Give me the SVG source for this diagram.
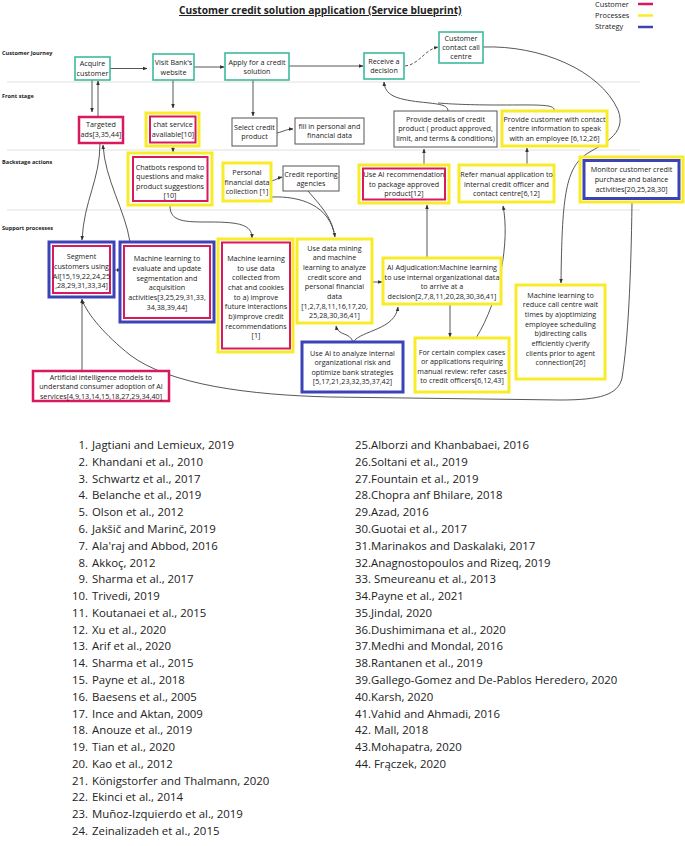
<svg xmlns="http://www.w3.org/2000/svg" width="685" height="846" viewBox="0 0 685 846">
<defs>
<style>
text{font-family:"Open Sans","Liberation Sans",sans-serif;fill:#222}
.t{font-size:7.2px;text-anchor:middle}
.lane{font-size:5.6px;font-weight:bold}
.leg{font-size:7.4px}
.ref{font-size:11.4px}
.refn{font-size:11.4px;text-anchor:end}
.title{font-size:10.2px;font-weight:bold;text-decoration:underline}
.teal{fill:#fff;stroke:#3dbb9d;stroke-width:1.6}
.pk{fill:#fff;stroke:#d8185f;stroke-width:2.5}
.pki{fill:none;stroke:#d8185f;stroke-width:2}
.yl{fill:#fff;stroke:#f8ec2a;stroke-width:3}
.bl{fill:#fff;stroke:#3c43b6;stroke-width:3}
.gr{fill:#fff;stroke:#555;stroke-width:1}
.c{fill:none;stroke:#444;stroke-width:0.9}
.dash{stroke-dasharray:3 2}
.sep{stroke:#e0e0e0;stroke-width:1}
</style>
<marker id="ah" viewBox="0 0 10 10" refX="9" refY="5" markerWidth="5" markerHeight="5" orient="auto"><path d="M0,1 L10,5 L0,9 z" fill="#333"/></marker>
</defs>
<rect width="685" height="846" fill="#fff"/>

<text class="title" x="179" y="14">Customer credit solution application (Service blueprint)</text>

<g id="legend">
<text class="leg" x="595" y="6.5">Customer</text>
<line x1="638" y1="4" x2="653" y2="4" stroke="#d8185f" stroke-width="2.5"/>
<text class="leg" x="595" y="17.5">Processes</text>
<line x1="638" y1="15.5" x2="653" y2="15.5" stroke="#f8ec2a" stroke-width="2.5"/>
<text class="leg" x="595" y="29">Strategy</text>
<line x1="638" y1="27" x2="653" y2="27" stroke="#3c43b6" stroke-width="2.5"/>
</g>

<g id="lanes">
<line class="sep" x1="7" y1="82" x2="640" y2="82"/>
<line class="sep" x1="7" y1="150" x2="640" y2="150"/>
<line class="sep" x1="7" y1="210" x2="640" y2="210"/>
<text class="lane" x="2" y="55">Customer Journey</text>
<text class="lane" x="2" y="98">Front stage</text>
<text class="lane" x="2" y="164">Backstage actions</text>
<text class="lane" x="2" y="230">Support processes</text>
</g>

<g id="connectors">
<path class="c" d="M110,68.5 L147,68.5" marker-end="url(#ah)"/>
<path class="c" d="M194,67 L224,67" marker-end="url(#ah)"/>
<path class="c" d="M289,66 L363,66" marker-end="url(#ah)"/>
<path class="c dash" d="M405,66 C420,64 424,50 438,47" marker-end="url(#ah)"/>
<path class="c" d="M92,80 L92,112" marker-end="url(#ah)"/>
<path class="c" d="M98,116 L98,81" marker-end="url(#ah)"/>
<path class="c" d="M173,80 L173,108" marker-end="url(#ah)"/>
<path class="c" d="M253,80 L253,116" marker-end="url(#ah)"/>
<path class="c" d="M277,133 C285,131 287,129 293,129" marker-end="url(#ah)"/>
<path class="c" d="M448,111 C448,105 440,104 420,102 C395,99 385,95 384,82" marker-end="url(#ah)"/>
<path class="c" d="M554,111 C556,104 540,105 500,105 C470,105 450,104 438,103"/>
<path class="c" d="M483,47 C540,45 600,70 618,110 C628,135 600,145 585,155 C565,170 562,200 561,283" marker-end="url(#ah)"/>
<path class="c" d="M527,165 L527,148" marker-end="url(#ah)"/>
<path class="c" d="M424,165 L424,149" marker-end="url(#ah)"/>
<path class="c" d="M173,146 L173,152" marker-end="url(#ah)"/>
<path class="c" d="M100,143 C100,180 84,200 82,240" marker-end="url(#ah)"/>
<path class="c" d="M130,242 C125,210 105,180 103,145" marker-end="url(#ah)"/>
<path class="c" d="M170,206 C170,222 185,222 210,222 C240,222 252,225 252,238" marker-end="url(#ah)"/>
<path class="c" d="M271,181 C276,180 278,178 282,177" marker-end="url(#ah)"/>
<path class="c" d="M272,197 C300,196 330,205 335,237" marker-end="url(#ah)"/>
<path class="c" d="M308,191 C320,205 330,215 334,232"/>
<path class="c" d="M372,282 L382,282" marker-end="url(#ah)"/>
<path class="c" d="M427,258 L427,205" marker-end="url(#ah)"/>
<path class="c" d="M450,304 L450,337" marker-end="url(#ah)"/>
<path class="c" d="M476,338 C500,300 510,240 503,206" marker-end="url(#ah)"/>
<path class="c" d="M353,342 C350,332 338,336 336,326" marker-end="url(#ah)"/>
<path class="c" d="M353,342 C362,330 395,330 398,307" marker-end="url(#ah)"/>
<path class="c" d="M114,270 L121,270" marker-end="url(#ah)"/>
<path class="c" d="M82,371 L82,299" marker-end="url(#ah)"/>
<path class="c" d="M632,202 C631,280 628,340 622,378 C618,395 600,400 560,400 L330,397 C250,395 170,385 130,355 C105,335 88,315 82,300" marker-end="url(#ah)"/>
</g>

<g id="acquire">
<rect class="teal" x="75" y="57" width="35" height="23"/>
<text class="t" x="92.5" y="65.5">Acquire</text>
<text class="t" x="92.5" y="75.5">customer</text>
</g>
<g id="visit">
<rect class="teal" x="153" y="54" width="41" height="26"/>
<text class="t" x="173.5" y="64.5">Visit Bank's</text>
<text class="t" x="173.5" y="74.5">website</text>
</g>
<g id="apply">
<rect class="teal" x="225" y="53" width="64" height="27"/>
<text class="t" x="257" y="64.5">Apply for a credit</text>
<text class="t" x="257" y="73.5">solution</text>
</g>
<g id="receive">
<rect class="teal" x="364" y="53" width="40" height="26"/>
<text class="t" x="384" y="63.5">Receive a</text>
<text class="t" x="384" y="72.5">decision</text>
</g>
<g id="contact">
<rect class="teal" x="439" y="32" width="44" height="31"/>
<text class="t" x="461" y="40.5">Customer</text>
<text class="t" x="461" y="49.5">contact call</text>
<text class="t" x="461" y="59">centre</text>
</g>

<g id="targeted">
<rect class="pk" x="79" y="117" width="44" height="26"/>
<text class="t" x="101" y="126.5">Targeted</text>
<text class="t" x="101" y="136.5">ads[3,35,44]</text>
</g>
<g id="chat">
<rect class="yl" x="146" y="113" width="53" height="33"/>
<rect class="pki" x="150" y="116.5" width="45.5" height="26"/>
<text class="t" x="173" y="126.5">chat service</text>
<text class="t" x="173" y="136.5">available[10]</text>
</g>
<g id="select">
<rect class="gr" x="232" y="118" width="45" height="28"/>
<text class="t" x="254.5" y="130">Select credit</text>
<text class="t" x="254.5" y="139">product</text>
</g>
<g id="fill">
<rect class="gr" x="295" y="118" width="69" height="26"/>
<text class="t" x="329.5" y="129">fill in personal and</text>
<text class="t" x="329.5" y="138">financial data</text>
</g>
<g id="details">
<rect class="gr" x="394" y="111" width="103" height="36"/>
<text class="t" x="445.5" y="121.5">Provide details of credit</text>
<text class="t" x="445.5" y="130.5">product ( product approved,</text>
<text class="t" x="445.5" y="140.5">limit, and terms &amp; conditions)</text>
</g>
<g id="contactinfo">
<rect class="yl" x="502" y="111" width="105" height="35"/>
<text class="t" x="554.5" y="121.5">Provide customer with contact</text>
<text class="t" x="554.5" y="130.5">centre information to speak</text>
<text class="t" x="554.5" y="140.5">with an employee [6,12,26]</text>
</g>

<g id="chatbots">
<rect class="yl" x="128" y="153" width="84" height="52"/>
<rect class="pki" x="133" y="157" width="74.5" height="44"/>
<text class="t" x="170" y="169.5">Chatbots respond to</text>
<text class="t" x="170" y="178.5">questions and make</text>
<text class="t" x="170" y="188.5">product suggestions</text>
<text class="t" x="170" y="198">[10]</text>
</g>
<g id="personal">
<rect class="yl" x="223" y="163" width="48" height="38"/>
<text class="t" x="247" y="174.5">Personal</text>
<text class="t" x="247" y="184.5">financial data</text>
<text class="t" x="247" y="193.5">collection [1]</text>
</g>
<g id="creditrep">
<rect class="gr" x="283" y="166" width="56" height="25"/>
<text class="t" x="311" y="176.5">Credit reporting</text>
<text class="t" x="311" y="185.5">agencies</text>
</g>
<g id="useairec">
<rect class="yl" x="359" y="165" width="90" height="38"/>
<rect class="pki" x="363" y="168.5" width="82" height="31"/>
<text class="t" x="404" y="176.5">Use AI recommendation</text>
<text class="t" x="404" y="186.5">to package approved</text>
<text class="t" x="404" y="195.5">product[12]</text>
</g>
<g id="refer">
<rect class="yl" x="459" y="165" width="95" height="37"/>
<text class="t" x="506.5" y="176.5">Refer manual application to</text>
<text class="t" x="506.5" y="186.5">internal credit officer and</text>
<text class="t" x="506.5" y="195.5">contact centre[6,12]</text>
</g>
<g id="monitor">
<rect class="yl" x="580" y="157" width="103" height="45"/>
<rect class="bl" x="584" y="160.5" width="95" height="38" stroke-width="2.5"/>
<text class="t" x="631.5" y="171.5">Monitor customer credit</text>
<text class="t" x="631.5" y="181.5">purchase and balance</text>
<text class="t" x="631.5" y="191.5">activities[20,25,28,30]</text>
</g>

<g id="segment">
<rect class="bl" x="49" y="242" width="65" height="55"/>
<rect class="pki" x="53" y="246" width="57" height="47"/>
<text class="t" x="81.5" y="258.5">Segment</text>
<text class="t" x="81.5" y="268.5">customers using</text>
<text class="t" x="81.5" y="278.5">AI[15,19,22,24,25</text>
<text class="t" x="81.5" y="287.5">,28,29,31,33,34]</text>
</g>
<g id="mleval">
<rect class="bl" x="120" y="242" width="94" height="80"/>
<rect class="pki" x="124" y="246" width="86" height="72"/>
<text class="t" x="167" y="260.5">Machine learning to</text>
<text class="t" x="167" y="270.5">evaluate and update</text>
<text class="t" x="167" y="280.5">segmentation and</text>
<text class="t" x="167" y="289.5">acquisition</text>
<text class="t" x="167" y="299.5">activities[3,25,29,31,33,</text>
<text class="t" x="167" y="309.5">34,38,39,44]</text>
</g>
<g id="mlchat">
<rect class="yl" x="218" y="239" width="75" height="113"/>
<rect class="pki" x="222" y="242.5" width="68" height="106"/>
<text class="t" x="256" y="260.8">Machine learning</text>
<text class="t" x="256" y="270.5">to use data</text>
<text class="t" x="256" y="280.2">collected from</text>
<text class="t" x="256" y="289.9">chat and cookies</text>
<text class="t" x="256" y="299.6">to a) improve</text>
<text class="t" x="256" y="309.3">future interactions</text>
<text class="t" x="256" y="319">b)improve credit</text>
<text class="t" x="256" y="328.7">recommendations</text>
<text class="t" x="256" y="338.4">[1]</text>
</g>
<g id="datamining">
<rect class="yl" x="297" y="239" width="75" height="84"/>
<text class="t" x="334.5" y="250.5">Use data mining</text>
<text class="t" x="334.5" y="260.2">and machine</text>
<text class="t" x="334.5" y="269.9">learning to analyze</text>
<text class="t" x="334.5" y="279.6">credit score and</text>
<text class="t" x="334.5" y="289.3">personal financial</text>
<text class="t" x="334.5" y="299">data</text>
<text class="t" x="334.5" y="308.7">[1,2,7,8,11,16,17,20,</text>
<text class="t" x="334.5" y="318.4">25,28,30,36,41]</text>
</g>
<g id="aiadj">
<rect class="yl" x="383" y="258" width="118" height="46"/>
<text class="t" x="442" y="269.5">AI Adjudication:Machine learning</text>
<text class="t" x="442" y="279.5">to use internal organizational data</text>
<text class="t" x="442" y="288.5">to arrive at a</text>
<text class="t" x="442" y="298.5">decision[2,7,8,11,20,28,30,36,41]</text>
</g>
<g id="complex">
<rect class="yl" x="415" y="338" width="94" height="54"/>
<text class="t" x="462" y="354.5">For certain complex cases</text>
<text class="t" x="462" y="364">or applications requiring</text>
<text class="t" x="462" y="373.5">manual review: refer cases</text>
<text class="t" x="462" y="383">to credit officers[6,12,43]</text>
</g>
<g id="useaianalyze">
<rect class="bl" x="302" y="342" width="101" height="50" stroke-width="2.5"/>
<text class="t" x="352.5" y="355.5">Use AI to analyze internal</text>
<text class="t" x="352.5" y="365">organizational risk and</text>
<text class="t" x="352.5" y="374.5">optimize bank strategies</text>
<text class="t" x="352.5" y="384">[5,17,21,23,32,35,37,42]</text>
</g>
<g id="mlcall">
<rect class="yl" x="516" y="285" width="89" height="94"/>
<text class="t" x="560.5" y="297.5">Machine learning to</text>
<text class="t" x="560.5" y="307.2">reduce call centre wait</text>
<text class="t" x="560.5" y="316.9">times by a)optimizing</text>
<text class="t" x="560.5" y="326.6">employee scheduling</text>
<text class="t" x="560.5" y="336.3">b)directing calls</text>
<text class="t" x="560.5" y="346">efficiently c)verify</text>
<text class="t" x="560.5" y="355.7">clients prior to agent</text>
<text class="t" x="560.5" y="365.4">connection[26]</text>
</g>
<g id="aimodels">
<rect class="pk" x="33" y="371" width="136" height="30"/>
<text class="t" x="101" y="379.5">Artificial intelligence models to</text>
<text class="t" x="101" y="389">understand consumer adoption of AI</text>
<text class="t" x="101" y="398.5">services[4,9,13,14,15,18,27,29,34,40]</text>
</g>

<g id="references">
<text class="refn" x="88" y="449">1.</text><text class="ref" x="92" y="449">Jagtiani and Lemieux, 2019</text>
<text class="refn" x="88" y="465.8">2.</text><text class="ref" x="92" y="465.8">Khandani et al., 2010</text>
<text class="refn" x="88" y="482.6">3.</text><text class="ref" x="92" y="482.6">Schwartz et al., 2017</text>
<text class="refn" x="88" y="499.3">4.</text><text class="ref" x="92" y="499.3">Belanche et al., 2019</text>
<text class="refn" x="88" y="516.1">5.</text><text class="ref" x="92" y="516.1">Olson et al., 2012</text>
<text class="refn" x="88" y="532.9">6.</text><text class="ref" x="92" y="532.9">Jakšič and Marinč, 2019</text>
<text class="refn" x="88" y="549.7">7.</text><text class="ref" x="92" y="549.7">Ala'raj and Abbod, 2016</text>
<text class="refn" x="88" y="566.5">8.</text><text class="ref" x="92" y="566.5">Akkoç, 2012</text>
<text class="refn" x="88" y="583.2">9.</text><text class="ref" x="92" y="583.2">Sharma et al., 2017</text>
<text class="refn" x="88" y="600">10.</text><text class="ref" x="92" y="600">Trivedi, 2019</text>
<text class="refn" x="88" y="616.8">11.</text><text class="ref" x="92" y="616.8">Koutanaei et al., 2015</text>
<text class="refn" x="88" y="633.6">12.</text><text class="ref" x="92" y="633.6">Xu et al., 2020</text>
<text class="refn" x="88" y="650.4">13.</text><text class="ref" x="92" y="650.4">Arif et al., 2020</text>
<text class="refn" x="88" y="667.1">14.</text><text class="ref" x="92" y="667.1">Sharma et al., 2015</text>
<text class="refn" x="88" y="683.9">15.</text><text class="ref" x="92" y="683.9">Payne et al., 2018</text>
<text class="refn" x="88" y="700.7">16.</text><text class="ref" x="92" y="700.7">Baesens et al., 2005</text>
<text class="refn" x="88" y="717.5">17.</text><text class="ref" x="92" y="717.5">Ince and Aktan, 2009</text>
<text class="refn" x="88" y="734.3">18.</text><text class="ref" x="92" y="734.3">Anouze et al., 2019</text>
<text class="refn" x="88" y="751">19.</text><text class="ref" x="92" y="751">Tian et al., 2020</text>
<text class="refn" x="88" y="767.8">20.</text><text class="ref" x="92" y="767.8">Kao et al., 2012</text>
<text class="refn" x="88" y="784.6">21.</text><text class="ref" x="92" y="784.6">Königstorfer and Thalmann, 2020</text>
<text class="refn" x="88" y="801.4">22.</text><text class="ref" x="92" y="801.4">Ekinci et al., 2014</text>
<text class="refn" x="88" y="818.2">23.</text><text class="ref" x="92" y="818.2">Muñoz-Izquierdo et al., 2019</text>
<text class="refn" x="88" y="834.9">24.</text><text class="ref" x="92" y="834.9">Zeinalizadeh et al., 2015</text>

<text class="ref" x="355" y="449">25.Alborzi and Khanbabaei, 2016</text>
<text class="ref" x="355" y="465.8">26.Soltani et al., 2019</text>
<text class="ref" x="355" y="482.6">27.Fountain et al., 2019</text>
<text class="ref" x="355" y="499.3">28.Chopra anf Bhilare, 2018</text>
<text class="ref" x="355" y="516.1">29.Azad, 2016</text>
<text class="ref" x="355" y="532.9">30.Guotai et al., 2017</text>
<text class="ref" x="355" y="549.7">31.Marinakos and Daskalaki, 2017</text>
<text class="ref" x="355" y="566.5">32.Anagnostopoulos and Rizeq, 2019</text>
<text class="ref" x="355" y="583.2">33. Smeureanu et al., 2013</text>
<text class="ref" x="355" y="600">34.Payne et al., 2021</text>
<text class="ref" x="355" y="616.8">35.Jindal, 2020</text>
<text class="ref" x="355" y="633.6">36.Dushimimana et al., 2020</text>
<text class="ref" x="355" y="650.4">37.Medhi and Mondal, 2016</text>
<text class="ref" x="355" y="667.1">38.Rantanen et al., 2019</text>
<text class="ref" x="355" y="683.9">39.Gallego-Gomez and De-Pablos Heredero, 2020</text>
<text class="ref" x="355" y="700.7">40.Karsh, 2020</text>
<text class="ref" x="355" y="717.5">41.Vahid and Ahmadi, 2016</text>
<text class="ref" x="355" y="734.3">42. Mall, 2018</text>
<text class="ref" x="355" y="751">43.Mohapatra, 2020</text>
<text class="ref" x="355" y="767.8">44. Frączek, 2020</text>
</g>
</svg>
